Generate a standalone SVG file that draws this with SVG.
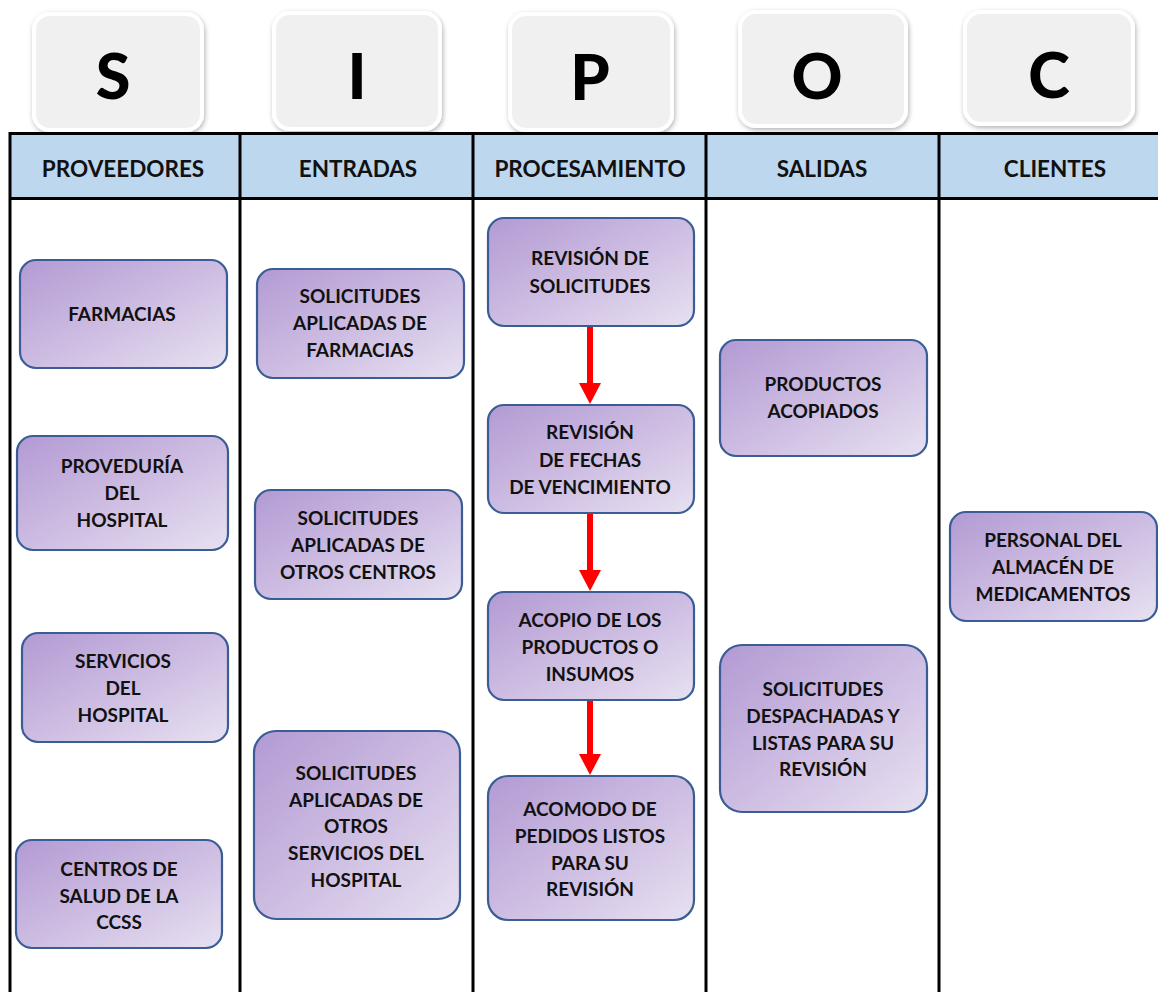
<svg xmlns="http://www.w3.org/2000/svg" width="1158" height="992" viewBox="0 0 1158 992">
<defs>
<linearGradient id="g" x1="0" y1="0" x2="1" y2="1">
<stop offset="0" stop-color="#B29AD3"/>
<stop offset="0.5" stop-color="#CDBCE2"/>
<stop offset="1" stop-color="#E7E1F1"/>
</linearGradient>
<filter id="sh" x="-20%" y="-20%" width="140%" height="140%">
<feDropShadow dx="1" dy="2" stdDeviation="2.5" flood-color="#000" flood-opacity="0.3"/>
</filter>
<marker id="ah" viewBox="0 0 21 22" refX="4" refY="11" markerWidth="21" markerHeight="22" markerUnits="userSpaceOnUse" orient="auto">
<path d="M0,0 L21,11 L0,22 Z" fill="#FF0000"/>
</marker>
</defs>
<style>
.lt{fill:#F0F0F0;stroke:#FFFFFF;stroke-width:4;filter:url(#sh)}
.ltx{font-family:Lato,"Open Sans",sans-serif;font-weight:900;font-size:63px;fill:#000;text-anchor:middle}
.hd{font-family:Lato,"Open Sans",sans-serif;font-weight:bold;font-size:22.5px;fill:#111;text-anchor:middle}
.bx{fill:url(#g);stroke:#3A5D96;stroke-width:2.2}
.tx{font-family:Lato,"Open Sans",sans-serif;font-weight:bold;font-size:19px;fill:#111;text-anchor:middle}
.ln{stroke:#000;stroke-width:3;fill:none}
.ar{stroke:#FF0000;stroke-width:6;fill:none}
</style>
<rect width="1158" height="992" fill="#FFFFFF"/>

<!-- letter boxes -->
<g id="letter-S"><rect class="lt" x="34" y="14" width="168" height="116" rx="16"/><text class="ltx" x="113" y="99">S</text></g>
<g id="letter-I"><rect class="lt" x="274" y="13" width="166" height="116" rx="16"/><text class="ltx" x="357" y="99">I</text></g>
<g id="letter-P"><rect class="lt" x="510" y="14" width="162" height="116" rx="16"/><text class="ltx" x="590" y="100">P</text></g>
<g id="letter-O"><rect class="lt" x="740" y="12" width="166" height="114" rx="16"/><text class="ltx" x="817" y="99">O</text></g>
<g id="letter-C"><rect class="lt" x="965" y="12" width="168" height="112" rx="16"/><text class="ltx" x="1049" y="98">C</text></g>

<!-- table -->
<g id="table">
<rect x="9" y="133" width="1149" height="66" fill="#BDD7EE"/>
<line class="ln" x1="9" y1="133.5" x2="1158" y2="133.5"/>
<line class="ln" x1="9" y1="198.5" x2="1158" y2="198.5"/>
<line class="ln" x1="10" y1="132" x2="10" y2="992"/>
<line class="ln" x1="240" y1="132" x2="240" y2="992"/>
<line class="ln" x1="473" y1="132" x2="473" y2="992"/>
<line class="ln" x1="706" y1="132" x2="706" y2="992"/>
<line class="ln" x1="939" y1="132" x2="939" y2="992"/>
<text class="hd" x="123" y="177">PROVEEDORES</text>
<text class="hd" x="358" y="177">ENTRADAS</text>
<text class="hd" x="590" y="177">PROCESAMIENTO</text>
<text class="hd" x="822" y="177">SALIDAS</text>
<text class="hd" x="1055" y="177">CLIENTES</text>
</g>

<!-- proveedores -->
<g id="n-farmacias"><rect class="bx" x="20" y="260" width="207" height="108" rx="16"/><text class="tx" x="122" y="321">FARMACIAS</text></g>
<g id="n-proveduria"><rect class="bx" x="17" y="436" width="211" height="114" rx="16"/><text class="tx" x="122" y="473">PROVEDURÍA</text><text class="tx" x="122" y="500">DEL</text><text class="tx" x="122" y="527">HOSPITAL</text></g>
<g id="n-servicios"><rect class="bx" x="22" y="633" width="206" height="109" rx="16"/><text class="tx" x="123" y="668">SERVICIOS</text><text class="tx" x="123" y="695">DEL</text><text class="tx" x="123" y="722">HOSPITAL</text></g>
<g id="n-centros"><rect class="bx" x="16" y="840" width="206" height="108" rx="16"/><text class="tx" x="119" y="876">CENTROS DE</text><text class="tx" x="119" y="903">SALUD DE LA</text><text class="tx" x="119" y="929">CCSS</text></g>

<!-- entradas -->
<g id="n-sol-farm"><rect class="bx" x="257" y="269" width="207" height="109" rx="16"/><text class="tx" x="360" y="303">SOLICITUDES</text><text class="tx" x="360" y="330">APLICADAS  DE</text><text class="tx" x="360" y="357">FARMACIAS</text></g>
<g id="n-sol-centros"><rect class="bx" x="255" y="490" width="207" height="109" rx="16"/><text class="tx" x="358" y="525">SOLICITUDES</text><text class="tx" x="358" y="552">APLICADAS DE</text><text class="tx" x="358" y="579">OTROS CENTROS</text></g>
<g id="n-sol-serv"><rect class="bx" x="254" y="731" width="206" height="188" rx="22"/><text class="tx" x="356" y="780">SOLICITUDES</text><text class="tx" x="356" y="807">APLICADAS  DE</text><text class="tx" x="356" y="833">OTROS</text><text class="tx" x="356" y="860">SERVICIOS DEL</text><text class="tx" x="356" y="887">HOSPITAL</text></g>

<!-- procesamiento -->
<g id="n-rev-sol"><rect class="bx" x="488" y="218" width="206" height="108" rx="16"/><text class="tx" x="590" y="265">REVISIÓN DE</text><text class="tx" x="590" y="293">SOLICITUDES</text></g>
<g id="n-rev-fechas"><rect class="bx" x="488" y="405" width="206" height="108" rx="16"/><text class="tx" x="590" y="439">REVISIÓN</text><text class="tx" x="590" y="467">DE FECHAS</text><text class="tx" x="590" y="494">DE VENCIMIENTO</text></g>
<g id="n-acopio"><rect class="bx" x="488" y="592" width="206" height="108" rx="16"/><text class="tx" x="590" y="627">ACOPIO DE LOS</text><text class="tx" x="590" y="654">PRODUCTOS O</text><text class="tx" x="590" y="681">INSUMOS</text></g>
<g id="n-acomodo"><rect class="bx" x="488" y="776" width="206" height="144" rx="20"/><text class="tx" x="590" y="816">ACOMODO  DE</text><text class="tx" x="590" y="843">PEDIDOS LISTOS</text><text class="tx" x="590" y="870">PARA SU</text><text class="tx" x="590" y="896">REVISIÓN</text></g>

<!-- salidas -->
<g id="n-productos"><rect class="bx" x="720" y="340" width="207" height="116" rx="16"/><text class="tx" x="823" y="391">PRODUCTOS</text><text class="tx" x="823" y="418">ACOPIADOS</text></g>
<g id="n-sol-desp"><rect class="bx" x="720" y="645" width="207" height="167" rx="22"/><text class="tx" x="823" y="696">SOLICITUDES</text><text class="tx" x="823" y="723">DESPACHADAS Y</text><text class="tx" x="823" y="750">LISTAS PARA SU</text><text class="tx" x="823" y="776">REVISIÓN</text></g>

<!-- clientes -->
<g id="n-personal"><rect class="bx" x="950" y="512" width="207" height="109" rx="16"/><text class="tx" x="1053" y="547">PERSONAL DEL</text><text class="tx" x="1053" y="574">ALMACÉN  DE</text><text class="tx" x="1053" y="601">MEDICAMENTOS</text></g>

<!-- connectors -->
<g id="connectors">
<line class="ar" x1="590" y1="327" x2="590" y2="387" marker-end="url(#ah)"/>
<line class="ar" x1="590" y1="514" x2="590" y2="574" marker-end="url(#ah)"/>
<line class="ar" x1="590" y1="701" x2="590" y2="758" marker-end="url(#ah)"/>
</g>
</svg>
